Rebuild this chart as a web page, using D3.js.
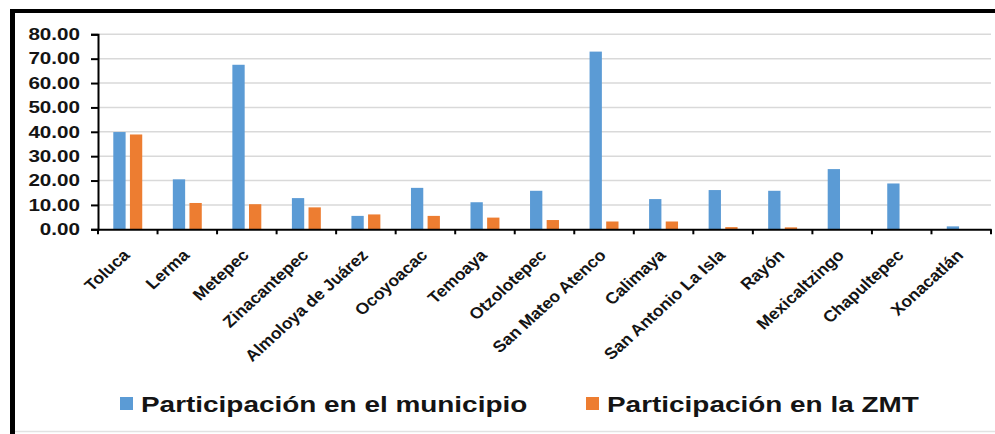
<!DOCTYPE html>
<html>
<head>
<meta charset="utf-8">
<script src="https://cdn.jsdelivr.net/npm/d3@7"></script>
<style>
html,body{margin:0;padding:0;background:#fff;}
svg{display:block;}
text{font-family:"Liberation Sans", Arial, sans-serif;font-weight:bold;fill:#141414;}
</style>
</head>
<body>
<svg id="chart" width="995" height="434"></svg>
<script>
const categories = ["Toluca","Lerma","Metepec","Zinacantepec","Almoloya de Juárez","Ocoyoacac","Temoaya","Otzolotepec","San Mateo Atenco","Calimaya","San Antonio La Isla","Rayón","Mexicaltzingo","Chapultepec","Xonacatlán"];
const municipio = [39.9, 20.5, 67.5, 12.8, 5.5, 17.0, 11.1, 15.8, 72.9, 12.4, 16.1, 15.8, 24.7, 18.8, 1.2];
const zmt = [38.9, 10.8, 10.3, 9.0, 6.1, 5.5, 4.8, 3.8, 3.2, 3.2, 0.9, 0.8, 0.0, 0.0, 0.0];
const seriesNames = ["Participación en el municipio","Participación en la ZMT"];
const yTicks = [0,10,20,30,40,50,60,70,80];
const colors = ["#5B9BD5","#ED7D31"];

const SX = 1.29; // horizontal stretch of the original picture
const svg = d3.select("#chart");
const mLeft = 98, mRight = 991, mTop = 34.3, mBottom = 229.3;

const x0 = d3.scaleBand().domain(categories).range([mLeft, mRight]).paddingInner(0).paddingOuter(0);
const x1 = d3.scaleBand().domain(seriesNames).range([0, x0.bandwidth()]).paddingInner(0.26).paddingOuter(0.92);
const y = d3.scaleLinear().domain([0, 80]).range([mBottom, mTop]);

// frame
svg.append("rect").attr("x",10).attr("y",9).attr("width",985).attr("height",4).attr("fill","#000");
svg.append("rect").attr("x",10).attr("y",9).attr("width",5).attr("height",425).attr("fill","#000");
svg.append("line").attr("x1",15).attr("x2",995).attr("y1",431.5).attr("y2",431.5).attr("stroke","#e2e2e2").attr("stroke-width",1.5);

// gridlines
svg.append("g").selectAll("line").data(yTicks.filter(d=>d>0)).join("line")
  .attr("x1", mLeft).attr("x2", mRight)
  .attr("y1", d=>y(d)).attr("y2", d=>y(d))
  .attr("stroke","#d9d9d9").attr("stroke-width",1.5);

// bars
const data = categories.map((c,i)=>({cat:c, vals:[municipio[i], zmt[i]]}));
const g = svg.append("g").selectAll("g").data(data).join("g")
  .attr("transform", d=>`translate(${x0(d.cat)},0)`);
g.selectAll("rect").data(d=>d.vals.map((v,j)=>({s:seriesNames[j], v, j}))).join("rect")
  .attr("x", d=>x1(d.s)).attr("width", x1.bandwidth())
  .attr("y", d=>y(d.v)).attr("height", d=>y(0)-y(d.v))
  .attr("fill", d=>colors[d.j]);

// y axis
const yAxis = svg.append("g").attr("transform",`translate(${mLeft},0)`)
  .call(d3.axisLeft(y).tickValues(yTicks).tickSize(7).tickFormat(""));
yAxis.select(".domain").attr("stroke","#000").attr("stroke-width",2);
yAxis.selectAll(".tick line").attr("stroke","#000").attr("stroke-width",2);
svg.append("g").selectAll("text").data(yTicks).join("text")
  .attr("transform", d=>`translate(80,${y(d)}) scale(${SX},1)`)
  .attr("text-anchor","end").attr("dy","0.36em")
  .style("font-size","16px")
  .text(d=>d3.format(".2f")(d));

// x axis
const xAxis = svg.append("g").attr("transform",`translate(0,${mBottom})`)
  .call(d3.axisBottom(x0).tickSize(0).tickFormat(""));
xAxis.select(".domain").attr("stroke","#000").attr("stroke-width",2);
const bounds = categories.map(c=>x0(c)).concat([mRight]);
svg.append("g").selectAll("line").data(bounds).join("line")
  .attr("x1", d=>d).attr("x2", d=>d).attr("y1", mBottom).attr("y2", mBottom+5)
  .attr("stroke","#000").attr("stroke-width",2);
svg.append("g").selectAll("text").data(categories).join("text")
  .attr("transform", d=>`translate(${x0(d)+x0.bandwidth()/2+3},${mBottom+27}) scale(1.1,1) rotate(-45)`)
  .attr("text-anchor","end")
  .style("font-size","16px")
  .text(d=>d);

// legend
const legX = [120, 586];
const leg = svg.append("g").selectAll("g").data(seriesNames).join("g")
  .attr("transform",(d,i)=>`translate(${legX[i]},0)`);
leg.append("rect").attr("x",0).attr("y",397).attr("width",13).attr("height",13).attr("fill",(d,i)=>colors[i]);
leg.append("text").attr("transform",`translate(21,411.5) scale(1.27,1)`)
  .style("font-size","22px").text(d=>d);
</script>
</body>
</html>
